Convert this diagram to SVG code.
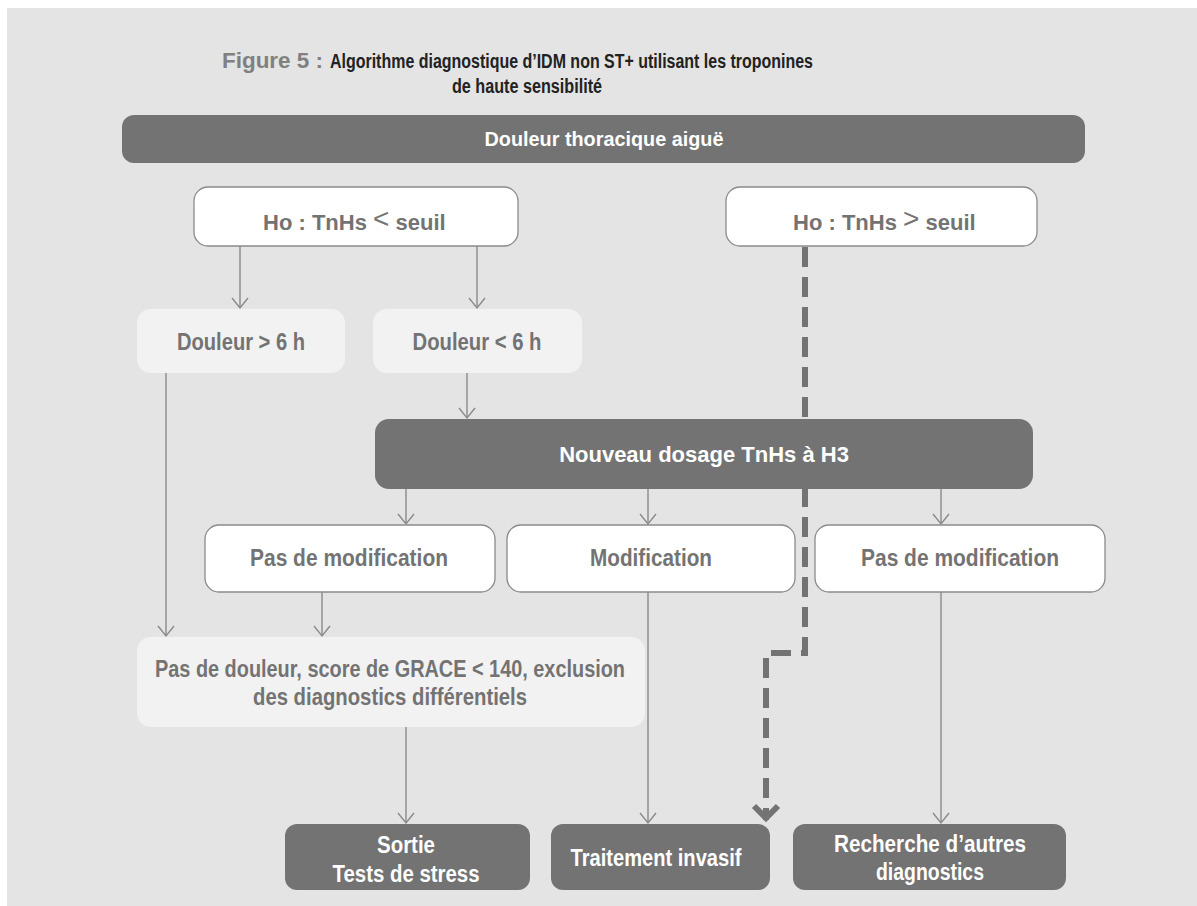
<svg xmlns="http://www.w3.org/2000/svg" width="1197" height="906" viewBox="0 0 1197 906">
<defs>
<marker id="arr" markerWidth="14" markerHeight="20" refX="11" refY="10" orient="auto" markerUnits="userSpaceOnUse" viewBox="0 0 14 20">
<path d="M1 2 L11 10 L1 18" fill="none" stroke="#8a8a8a" stroke-width="1.4"/>
</marker>
<marker id="arrd" markerWidth="24" markerHeight="30" refX="20" refY="15" orient="auto" markerUnits="userSpaceOnUse" viewBox="0 0 24 30">
<path d="M6 3 L18 15 L6 27" fill="none" stroke="#737373" stroke-width="6"/>
</marker>
</defs>
<style>
.bg{fill:#e4e4e4}
.dark{fill:#737373}
.light{fill:#f2f2f2}
.white{fill:#ffffff;stroke:#8a8a8a;stroke-width:1.3}
text{font-family:"Liberation Sans Narrow","Liberation Sans",Arial,sans-serif;font-weight:bold}
.c{text-anchor:middle}
.s{text-anchor:start}
.tw{fill:#ffffff;font-size:23px}
.tg{fill:#737373;font-size:23px}
.conn{fill:none;stroke:#8a8a8a;stroke-width:1.4}
.dash{fill:none;stroke:#737373;stroke-width:6;stroke-dasharray:20 10}
</style>
<rect class="bg" x="7" y="8" width="1190" height="898"/>
<g id="title">
<text class="s" x="222" y="68" font-size="22" fill="#808080" textLength="101" lengthAdjust="spacingAndGlyphs">Figure 5 :</text>
<text class="s" x="330" y="68" font-size="20" fill="#222" textLength="483" lengthAdjust="spacingAndGlyphs">Algorithme diagnostique d’IDM non ST+ utilisant les troponines</text>
<text class="c" x="527" y="93" font-size="20" fill="#222" textLength="150" lengthAdjust="spacingAndGlyphs">de haute sensibilité</text>
</g>
<g id="connectors">
<line class="conn" x1="240" y1="246" x2="240" y2="308" marker-end="url(#arr)"/>
<line class="conn" x1="477" y1="246" x2="477" y2="308" marker-end="url(#arr)"/>
<line class="conn" x1="166" y1="373" x2="166" y2="636" marker-end="url(#arr)"/>
<line class="conn" x1="467" y1="373" x2="467" y2="418" marker-end="url(#arr)"/>
<line class="conn" x1="406" y1="489" x2="406" y2="524" marker-end="url(#arr)"/>
<line class="conn" x1="648" y1="489" x2="648" y2="524" marker-end="url(#arr)"/>
<line class="conn" x1="941" y1="489" x2="941" y2="524" marker-end="url(#arr)"/>
<line class="conn" x1="322" y1="592" x2="322" y2="636" marker-end="url(#arr)"/>
<line class="conn" x1="406" y1="727" x2="406" y2="823" marker-end="url(#arr)"/>
<line class="conn" x1="648" y1="592" x2="648" y2="823" marker-end="url(#arr)"/>
<line class="conn" x1="941" y1="592" x2="941" y2="823" marker-end="url(#arr)"/>
<path class="dash" d="M805 247 V653 H766 V820" marker-end="url(#arrd)"/>
</g>
<g id="n-douleur"><rect class="dark" x="122" y="115" width="963" height="48" rx="12"/><text class="tw c" x="604" y="146" style="font-size:21px" textLength="239" lengthAdjust="spacingAndGlyphs">Douleur thoracique aiguë</text></g>
<g id="n-ho-low"><rect class="white" x="194" y="187" width="324" height="59" rx="14"/><text class="tg s" x="263" y="230" style="font-size:22px">Ho : TnHs <tspan font-weight="normal" style="font-size:28px" dy="-2">&lt;</tspan><tspan dy="2"> seuil</tspan></text></g>
<g id="n-ho-high"><rect class="white" x="726" y="187" width="311" height="59" rx="14"/><text class="tg s" x="793" y="230" style="font-size:22px">Ho : TnHs <tspan font-weight="normal" style="font-size:28px" dy="-2">&gt;</tspan><tspan dy="2"> seuil</tspan></text></g>
<g id="n-sup6"><rect class="light" x="137" y="309" width="208" height="64" rx="14"/><text class="tg c" x="241" y="350" textLength="128" lengthAdjust="spacingAndGlyphs">Douleur &gt; 6 h</text></g>
<g id="n-inf6"><rect class="light" x="373" y="309" width="209" height="64" rx="14"/><text class="tg c" x="477" y="350" textLength="129" lengthAdjust="spacingAndGlyphs">Douleur &lt; 6 h</text></g>
<g id="n-h3"><rect class="dark" x="375" y="419" width="658" height="70" rx="14"/><text class="tw c" x="704" y="462" style="font-size:22px">Nouveau dosage TnHs à H3</text></g>
<g id="n-pasmod1"><rect class="white" x="205" y="525" width="290" height="67" rx="14"/><text class="tg c" x="349" y="566" textLength="198" lengthAdjust="spacingAndGlyphs">Pas de modification</text></g>
<g id="n-mod"><rect class="white" x="507" y="525" width="288" height="67" rx="14"/><text class="tg c" x="651" y="566" textLength="122" lengthAdjust="spacingAndGlyphs">Modification</text></g>
<g id="n-pasmod2"><rect class="white" x="815" y="525" width="290" height="67" rx="14"/><text class="tg c" x="960" y="566" textLength="198" lengthAdjust="spacingAndGlyphs">Pas de modification</text></g>
<g id="n-pasdouleur"><rect class="light" x="137" y="637" width="508" height="90" rx="14"/><text class="tg c" x="390" y="677" textLength="470" lengthAdjust="spacingAndGlyphs">Pas de douleur, score de GRACE &lt; 140,  exclusion</text><text class="tg c" x="390" y="705" textLength="274" lengthAdjust="spacingAndGlyphs">des diagnostics différentiels</text></g>
<g id="n-sortie"><rect class="dark" x="285" y="824" width="245" height="66" rx="12"/><text class="tw c" x="406" y="853" textLength="58" lengthAdjust="spacingAndGlyphs">Sortie</text><text class="tw c" x="406" y="882" textLength="147" lengthAdjust="spacingAndGlyphs">Tests de stress</text></g>
<g id="n-invasif"><rect class="dark" x="551" y="824" width="219" height="66" rx="12"/><text class="tw c" x="656" y="866" textLength="171" lengthAdjust="spacingAndGlyphs">Traitement invasif</text></g>
<g id="n-recherche"><rect class="dark" x="793" y="824" width="273" height="66" rx="12"/><text class="tw c" x="930" y="852" textLength="192" lengthAdjust="spacingAndGlyphs">Recherche d’autres</text><text class="tw c" x="930" y="880" textLength="108" lengthAdjust="spacingAndGlyphs">diagnostics</text></g>
</svg>
